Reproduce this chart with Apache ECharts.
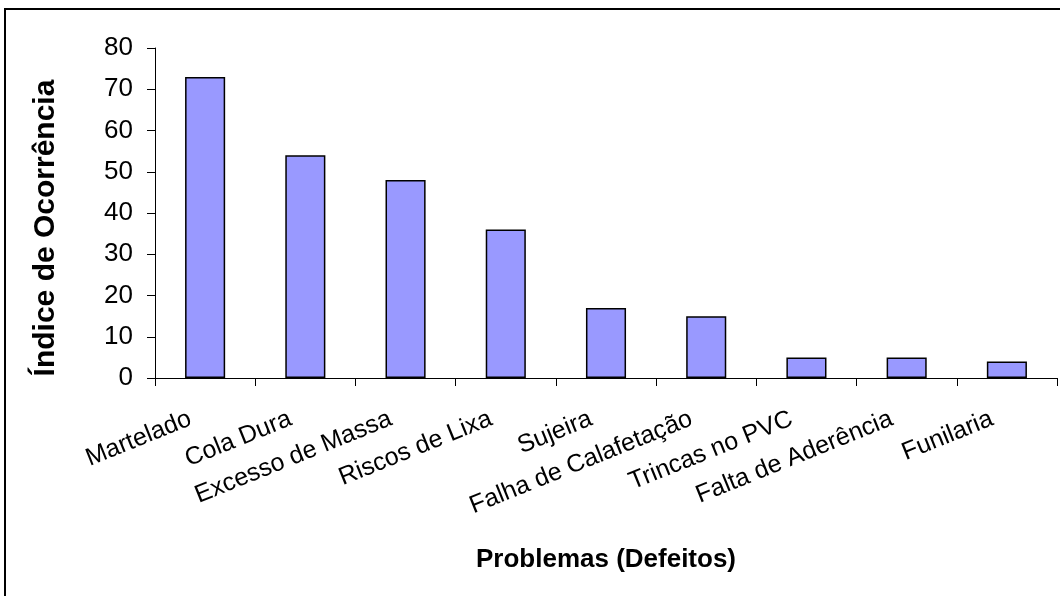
<!DOCTYPE html>
<html>
<head>
<meta charset="utf-8">
<script src="https://cdn.jsdelivr.net/npm/echarts@6/dist/echarts.min.js"></script>
<style>
  html, body { margin: 0; padding: 0; background: #fff; }
  #chart { width: 1060px; height: 596px; }
</style>
</head>
<body>
<div id="chart"></div>
<script>
// Defect categories and how often each one occurs
const problemas = [
  'Martelado', 'Cola Dura', 'Excesso de Massa', 'Riscos de Lixa', 'Sujeira',
  'Falha de Calafetação', 'Trincas no PVC', 'Falta de Aderência', 'Funilaria'
];
const ocorrencias = [73, 54, 48, 36, 17, 15, 5, 5, 4];
const yTicks = [0, 10, 20, 30, 40, 50, 60, 70, 80];

const FONT = '"Liberation Sans", Arial, sans-serif';

const chart = echarts.init(document.getElementById('chart'), null, { renderer: 'canvas' });

chart.setOption({
  animation: false,
  backgroundColor: '#ffffff',
  // outer chart-area border
  graphic: [{
    type: 'rect',
    shape: { x: 5, y: 9, width: 1100, height: 700 },
    style: { fill: 'none', stroke: '#000', lineWidth: 2 },
    silent: true
  }],
  grid: { left: 155, right: 3, top: 48, bottom: 218, containLabel: false },
  xAxis: {
    type: 'category',
    data: problemas,
    boundaryGap: true,
    name: 'Problemas (Defeitos)',
    nameLocation: 'middle',
    nameGap: 169,
    nameTextStyle: { fontFamily: FONT, fontSize: 26, fontWeight: 'bold', color: '#000' },
    axisLine: { lineStyle: { color: '#000', width: 1 } },
    axisTick: { show: true, alignWithLabel: false, length: 8, lineStyle: { color: '#000' } },
    axisLabel: {
      interval: 0,
      rotate: 22,
      margin: 34,
      padding: [0, 16, 0, 0],
      fontFamily: FONT,
      fontSize: 25,
      color: '#000'
    },
    splitLine: { show: false }
  },
  yAxis: {
    type: 'value',
    min: yTicks[0],
    max: yTicks[yTicks.length - 1],
    interval: yTicks[1] - yTicks[0],
    name: 'Índice de Ocorrência',
    nameLocation: 'middle',
    nameGap: 94,
    nameRotate: 90,
    nameTextStyle: {
      fontFamily: FONT, fontSize: 30, fontWeight: 'bold', color: '#000',
      padding: [0, 30, 0, 0]
    },
    axisLine: { show: true, lineStyle: { color: '#000', width: 1 } },
    axisTick: { show: true, length: 8, lineStyle: { color: '#000' } },
    axisLabel: { margin: 22, fontFamily: FONT, fontSize: 26, color: '#000' },
    splitLine: { show: false }
  },
  series: [{
    type: 'bar',
    data: ocorrencias,
    barWidth: '40%',
    itemStyle: { color: '#9999FF', borderColor: '#000', borderWidth: 1.5 }
  }]
});
</script>
</body>
</html>
